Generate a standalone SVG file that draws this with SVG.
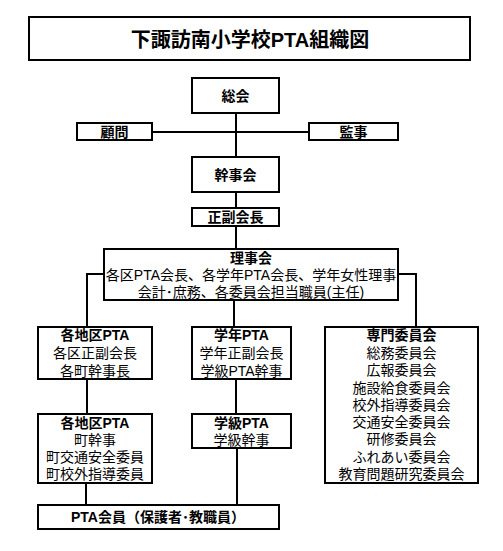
<svg xmlns="http://www.w3.org/2000/svg" width="503" height="551" viewBox="0 0 503 551">
<style>
.box{fill:#fff;stroke:#000;stroke-width:2}
.ln{fill:none;stroke:#000;stroke-width:2}
text{font-family:"Liberation Sans","Noto Sans CJK JP",sans-serif;font-size:14px;text-anchor:middle;dominant-baseline:central;fill:#000}
.b{font-weight:bold}
.t{font-size:20px;font-weight:bold}
</style>
<rect width="503" height="551" fill="#fff"/>
<g id="connectors">
<line class="ln" x1="236" y1="113" x2="236" y2="157"/>
<line class="ln" x1="152" y1="132" x2="309" y2="132"/>
<line class="ln" x1="236" y1="192" x2="236" y2="208"/>
<line class="ln" x1="236" y1="226" x2="236" y2="249"/>
<polyline class="ln" points="104,274 87,274 87,327"/>
<polyline class="ln" points="398,274 416,274 416,327"/>
<line class="ln" x1="234" y1="300" x2="234" y2="327"/>
<line class="ln" x1="87" y1="379" x2="87" y2="414"/>
<line class="ln" x1="236" y1="379" x2="236" y2="414"/>
<line class="ln" x1="86" y1="483" x2="86" y2="505"/>
<line class="ln" x1="237" y1="448" x2="237" y2="505"/>
</g>
<g id="title"><rect class="box" x="29" y="17" width="441" height="43"/><text class="t" x="250" y="40">下諏訪南小学校PTA組織図</text></g>
<g id="soukai"><rect class="box" x="192" y="78" width="87" height="35"/><text class="b" x="235.5" y="96" font-size="16">総会</text></g>
<g id="komon"><rect class="box" x="77" y="123" width="75" height="17"/><text class="b" x="114.5" y="132">顧問</text></g>
<g id="kanji"><rect class="box" x="309" y="123" width="89" height="17"/><text class="b" x="353.5" y="132">監事</text></g>
<g id="kanjikai"><rect class="box" x="192" y="157" width="87" height="35"/><text class="b" x="235.5" y="175">幹事会</text></g>
<g id="seifuku"><rect class="box" x="192" y="208" width="87" height="18"/><text class="b" x="235.5" y="217">正副会長</text></g>
<g id="rijikai"><rect class="box" x="104" y="249" width="294" height="51"/>
<text class="b" x="251" y="258" font-size="15">理事会</text>
<text x="251" y="275">各区PTA会長、各学年PTA会長、学年女性理事</text>
<text x="251" y="292">会計･庶務、各委員会担当職員(主任)</text></g>
<g id="chiku1"><rect class="box" x="38" y="327" width="114" height="52"/>
<text class="b" x="95" y="335">各地区PTA</text>
<text x="95" y="353">各区正副会長</text>
<text x="95" y="371">各町幹事長</text></g>
<g id="gakunen"><rect class="box" x="192" y="327" width="99" height="52"/>
<text class="b" x="241.5" y="335">学年PTA</text>
<text x="241.5" y="353">学年正副会長</text>
<text x="241.5" y="371">学級PTA幹事</text></g>
<g id="senmon"><rect class="box" x="325" y="327" width="153" height="156"/>
<text class="b" x="401.5" y="335">専門委員会</text>
<text x="401.5" y="353">総務委員会</text>
<text x="401.5" y="370">広報委員会</text>
<text x="401.5" y="388">施設給食委員会</text>
<text x="401.5" y="405">校外指導委員会</text>
<text x="401.5" y="422">交通安全委員会</text>
<text x="401.5" y="439">研修委員会</text>
<text x="401.5" y="457">ふれあい委員会</text>
<text x="401.5" y="474">教育問題研究委員会</text></g>
<g id="chiku2"><rect class="box" x="38" y="414" width="114" height="69"/>
<text class="b" x="95" y="423">各地区PTA</text>
<text x="95" y="440">町幹事</text>
<text x="95" y="457">町交通安全委員</text>
<text x="95" y="474">町校外指導委員</text></g>
<g id="gakkyu"><rect class="box" x="192" y="414" width="99" height="34"/>
<text class="b" x="241.5" y="423">学級PTA</text>
<text x="241.5" y="440">学級幹事</text></g>
<g id="kaiin"><rect class="box" x="38" y="505" width="241" height="24"/>
<text class="b" x="158" y="517">PTA会員（保護者･教職員）</text></g>
</svg>
